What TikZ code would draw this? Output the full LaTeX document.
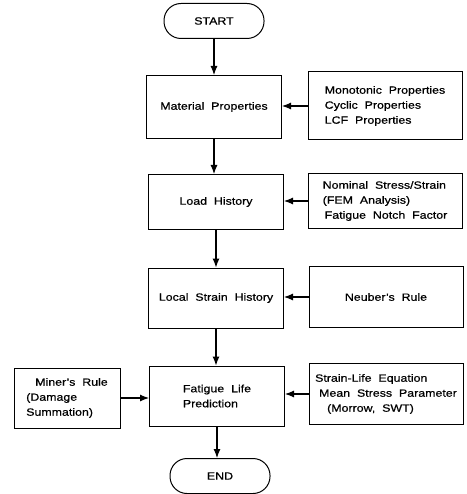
\documentclass[tikz,border=0pt]{standalone}
\usepackage{fontspec}
\setmainfont[FakeStretch=1.18,FakeBold=0.6]{Liberation Sans}
\usetikzlibrary{arrows.meta}

\tikzset{
    fl node/.style={draw=black, line width=1pt, font=\fontsize{10.5}{15}\selectfont,
                    inner sep=0pt, align=left},
    fl term/.style={fl node, minimum width=100pt, minimum height=35pt,
                    rounded corners=17pt},
    fl box/.style={fl node, minimum width=135pt, minimum height=61pt},
    fl input/.style={fl node, minimum width=154pt, minimum height=66pt},
    fl arrow/.style={-{Latex[length=9pt,width=7pt]}, line width=1.1pt, black},
}

\begin{document}
\begin{tikzpicture}[x=1pt, y=-1pt]
    \useasboundingbox (0,0) rectangle (466,494);
    % Main column
    \node[fl term] (start) at (214, 21) {START};
    \node[fl box, minimum height=63pt] (matprop) at (214, 107) {Material\ \ Properties};
    \node[fl box, minimum height=55pt] (loadhist) at (216, 202) {Load\ \ History};
    \node[fl box, minimum height=60pt] (strainhist) at (216, 298) {Local\ \ Strain\ \ History};
    \node[fl box, minimum height=60pt] (lifepred) at (217, 396) {Fatigue\ \ Life\\Prediction};
    \node[fl term] (stop) at (220, 476) {END};
    % Inputs on the right
    \node[fl input, minimum height=68pt] (matin) at (385, 106)
        {Monotonic\ \ Properties\\Cyclic\ \ Properties\\LCF\ \ Properties};
    \node[fl input, minimum height=55pt] (loadin) at (385, 201)
        {Nominal\ \ Stress/Strain\\(FEM\ \ Analysis)\\\hspace{2pt}Fatigue\ \ Notch\ \ Factor};
    \node[fl input, minimum height=61pt] (neuber) at (386, 297) {Neuber's\ \ Rule};
    \node[fl input, minimum height=61pt] (lifein) at (386, 394)
        {Strain-Life\ \ Equation\\\hspace{4pt}Mean\ \ Stress\ \ Parameter\\\hspace{12pt}(Morrow,\ \ SWT)};
    % Input on the left
    \node[fl node, minimum width=106pt, minimum height=60pt] (miner) at (67, 398)
        {\hspace{9pt}Miner's\ \ Rule\\(Damage\\Summation)};
    % Connectors down the column
    \draw[fl arrow] (start.south) -- (start.south |- matprop.north);
    \draw[fl arrow] (matprop.south) -- (matprop.south |- loadhist.north);
    \draw[fl arrow] (loadhist.south) -- (loadhist.south |- strainhist.north);
    \draw[fl arrow] (strainhist.south) -- (strainhist.south |- lifepred.north);
    \draw[fl arrow] (lifepred.south) -- (lifepred.south |- stop.north);
    % Connectors from the inputs
    \draw[fl arrow] (matin.west) -- (matin.west -| matprop.east);
    \draw[fl arrow] (loadin.west) -- (loadin.west -| loadhist.east);
    \draw[fl arrow] (neuber.west) -- (neuber.west -| strainhist.east);
    \draw[fl arrow] (lifein.west) -- (lifein.west -| lifepred.east);
    \draw[fl arrow] (miner.east) -- (miner.east -| lifepred.west);
\end{tikzpicture}
\end{document}
